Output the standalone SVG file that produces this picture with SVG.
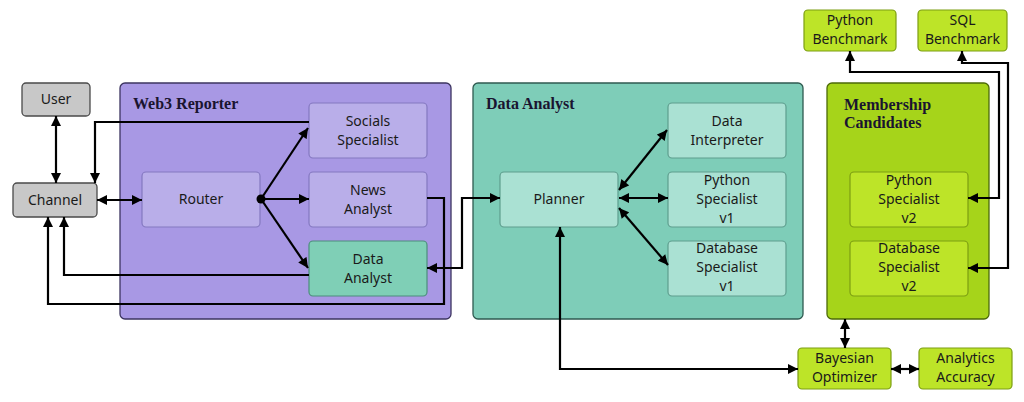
<svg xmlns="http://www.w3.org/2000/svg" width="1024" height="402" viewBox="0 0 1024 402">
<defs>
<marker id="ah" viewBox="0 0 10 10" refX="10" refY="5" markerWidth="11" markerHeight="10" markerUnits="userSpaceOnUse" orient="auto-start-reverse">
<path d="M0,0 L10,5 L0,10 z" fill="#000"/>
</marker>
<style>
.t{font-family:"Noto Sans","Open Sans",sans-serif;font-size:14px;fill:#1a1a1a;text-anchor:middle}
.h{font-family:"Liberation Serif","DejaVu Serif",serif;font-size:16px;font-weight:bold;fill:#1a1430}
.gray{fill:#c8c8c8;stroke:#4a4a4a;stroke-width:1.3}
.pc{fill:#a898e4;stroke:#3c3460;stroke-width:1.3}
.pb{fill:#b9aee9;stroke:#8478c0;stroke-width:1.2}
.tc{fill:#7ecdb8;stroke:#2f5a50;stroke-width:1.3}
.tb{fill:#aae1d3;stroke:#5e9e8e;stroke-width:1.2}
.tm{fill:#7fcfb6;stroke:#4c8e7c;stroke-width:1.2}
.gc{fill:#a6d41a;stroke:#4c6a08;stroke-width:1.3}
.gb{fill:#bde428;stroke:#7c9e12;stroke-width:1.2}
.c{fill:none;stroke:#000;stroke-width:2.2}
</style>
</defs>

<g id="web3-reporter">
<rect class="pc" x="120" y="83" width="331" height="236" rx="5"/>
<text class="h" x="133" y="109">Web3 Reporter</text>
</g>
<g id="data-analyst-group">
<rect class="tc" x="473" y="83" width="330" height="236" rx="5"/>
<text class="h" x="486" y="109">Data Analyst</text>
</g>
<g id="membership-candidates">
<rect class="gc" x="827" y="83" width="162" height="236" rx="5"/>
<text class="h" x="844" y="110">Membership</text>
<text class="h" x="844" y="128">Candidates</text>
</g>

<g id="user"><rect class="gray" x="22" y="83" width="68" height="33" rx="4"/><text class="t" x="56" y="104">User</text></g>
<g id="channel"><rect class="gray" x="13" y="183" width="84" height="34" rx="4"/><text class="t" x="55" y="205">Channel</text></g>

<g id="router"><rect class="pb" x="142" y="172" width="118" height="55" rx="4"/><text class="t" x="201" y="204">Router</text></g>
<g id="socials-specialist"><rect class="pb" x="309" y="103" width="118" height="55" rx="4"/><text class="t" x="368" y="126">Socials</text><text class="t" x="368" y="145">Specialist</text></g>
<g id="news-analyst"><rect class="pb" x="309" y="172" width="118" height="55" rx="4"/><text class="t" x="368" y="195">News</text><text class="t" x="368" y="214">Analyst</text></g>
<g id="data-analyst"><rect class="tm" x="309" y="241" width="118" height="55" rx="4"/><text class="t" x="368" y="264">Data</text><text class="t" x="368" y="283">Analyst</text></g>

<g id="planner"><rect class="tb" x="500" y="172" width="118" height="55" rx="4"/><text class="t" x="559" y="204">Planner</text></g>
<g id="data-interpreter"><rect class="tb" x="668" y="103" width="118" height="55" rx="4"/><text class="t" x="727" y="126">Data</text><text class="t" x="727" y="145">Interpreter</text></g>
<g id="python-specialist-v1"><rect class="tb" x="668" y="172" width="118" height="55" rx="4"/><text class="t" x="727" y="185">Python</text><text class="t" x="727" y="204">Specialist</text><text class="t" x="727" y="223">v1</text></g>
<g id="database-specialist-v1"><rect class="tb" x="668" y="241" width="118" height="55" rx="4"/><text class="t" x="727" y="253">Database</text><text class="t" x="727" y="272">Specialist</text><text class="t" x="727" y="291">v1</text></g>

<g id="python-specialist-v2"><rect class="gb" x="850" y="172" width="118" height="55" rx="4"/><text class="t" x="909" y="185">Python</text><text class="t" x="909" y="204">Specialist</text><text class="t" x="909" y="223">v2</text></g>
<g id="database-specialist-v2"><rect class="gb" x="850" y="241" width="118" height="55" rx="4"/><text class="t" x="909" y="253">Database</text><text class="t" x="909" y="272">Specialist</text><text class="t" x="909" y="291">v2</text></g>

<g id="python-benchmark"><rect class="gb" x="804" y="10" width="92" height="41" rx="4"/><text class="t" x="850" y="25">Python</text><text class="t" x="850" y="44">Benchmark</text></g>
<g id="sql-benchmark"><rect class="gb" x="918" y="10" width="89" height="41" rx="4"/><text class="t" x="962.500" y="25">SQL</text><text class="t" x="962.500" y="44">Benchmark</text></g>
<g id="bayesian-optimizer"><rect class="gb" x="798" y="348" width="93" height="41" rx="4"/><text class="t" x="844.500" y="363">Bayesian</text><text class="t" x="844.500" y="382">Optimizer</text></g>
<g id="analytics-accuracy"><rect class="gb" x="919" y="348" width="93" height="41" rx="4"/><text class="t" x="965.500" y="363">Analytics</text><text class="t" x="965.500" y="382">Accuracy</text></g>

<g id="connectors">
<path class="c" d="M56,116 L56,183" marker-start="url(#ah)" marker-end="url(#ah)"/>
<path class="c" d="M97,200 L142,200" marker-start="url(#ah)" marker-end="url(#ah)"/>
<path class="c" d="M309,122 L95,122 L95,183" marker-end="url(#ah)"/>
<path class="c" d="M309,275 L64,275 L64,217" marker-end="url(#ah)"/>
<path class="c" d="M427,198 L444,198 L444,304 L48,304 L48,217" marker-end="url(#ah)"/>
<path class="c" d="M427,268 L462,268 L462,198 L500,198" marker-start="url(#ah)" marker-end="url(#ah)"/>
<circle cx="261" cy="199" r="4.500" fill="#000"/>
<path class="c" d="M261,199 L308,128" marker-end="url(#ah)"/>
<path class="c" d="M261,199 L309,199" marker-end="url(#ah)"/>
<path class="c" d="M261,199 L308,268" marker-end="url(#ah)"/>
<path class="c" d="M619,190 L667,130" marker-start="url(#ah)" marker-end="url(#ah)"/>
<path class="c" d="M619,198 L668,198" marker-start="url(#ah)" marker-end="url(#ah)"/>
<path class="c" d="M619,208 L668,265" marker-start="url(#ah)" marker-end="url(#ah)"/>
<path class="c" d="M560,227 L560,369 L798,369" marker-start="url(#ah)" marker-end="url(#ah)"/>
<path class="c" d="M845,319 L845,348" marker-start="url(#ah)" marker-end="url(#ah)"/>
<path class="c" d="M891,369 L919,369" marker-start="url(#ah)" marker-end="url(#ah)"/>
<path class="c" d="M968,198 L999,198 L999,72 L850,72 L850,51" marker-start="url(#ah)" marker-end="url(#ah)"/>
<path class="c" d="M968,268 L1008,268 L1008,63 L962,63 L962,51" marker-start="url(#ah)" marker-end="url(#ah)"/>
</g>
</svg>
